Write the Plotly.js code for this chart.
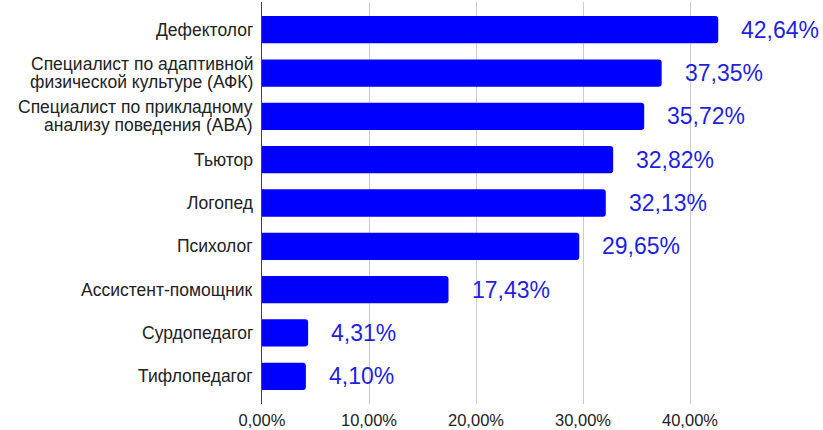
<!DOCTYPE html>
<html>
<head>
<meta charset="utf-8">
<script src="https://cdn.plot.ly/plotly-3.0.1.min.js"></script>
<style>html,body{margin:0;padding:0;background:#fff;}#chart{width:823px;height:430px;}</style>
</head>
<body>
<div id="chart"></div>
<script>
const categories = [
  "Дефектолог",
  "Специалист по адаптивной<br>физической культуре (АФК)",
  "Специалист по прикладному<br>анализу поведения (ABA)",
  "Тьютор",
  "Логопед",
  "Психолог",
  "Ассистент-помощник",
  "Сурдопедагог",
  "Тифлопедагог"
];
const values = [42.64, 37.35, 35.72, 32.82, 32.13, 29.65, 17.43, 4.31, 4.10];
const valueLabels = ["42,64%", "37,35%", "35,72%", "32,82%", "32,13%", "29,65%", "17,43%", "4,31%", "4,10%"];
const tickValues = [0, 10, 20, 30, 40, 50];
const tickLabels = ["0,00%", "10,00%", "20,00%", "30,00%", "40,00%", ""];

const FONT = "Arial, 'Liberation Sans', sans-serif";
const idx = categories.map((c, i) => i);

const trace = {
  type: "bar",
  orientation: "h",
  x: values,
  y: idx,
  marker: { color: "#0000ff", cornerradius: 3 },
  hoverinfo: "none"
};

const annotations = [];
values.forEach((v, i) => {
  annotations.push({
    x: v, y: i, xref: "x", yref: "y",
    text: valueLabels[i], showarrow: false,
    xanchor: "left", yanchor: "middle", xshift: 21,
    font: { family: FONT, size: 23, color: "#1f1fe0" }
  });
});
categories.forEach((c, i) => {
  const lines = c.split("<br>");
  const n = lines.length;
  lines.forEach((line, k) => {
    annotations.push({
      x: 0, y: i, xref: "paper", yref: "y",
      text: line, showarrow: false,
      xanchor: "right", yanchor: "middle", xshift: -7,
      yshift: ((n - 1) / 2 - k) * 18,
      font: { family: FONT, size: 17.5, color: "#222222" }
    });
  });
});

const layout = {
  width: 823, height: 430,
  margin: { l: 262, r: 26, t: 2, b: 26 },
  paper_bgcolor: "#fff", plot_bgcolor: "#fff",
  showlegend: false,
  bargap: 0.37,
  xaxis: {
    range: [0, 50], tickvals: tickValues, ticktext: tickLabels,
    showgrid: true, gridcolor: "#cccccc", gridwidth: 1,
    zeroline: false, showline: false, ticks: "",
    ticklabelstandoff: 4,
    tickfont: { family: FONT, size: 16.5, color: "#222222" },
    fixedrange: true
  },
  yaxis: {
    range: [8.64, -0.64], tickvals: idx, showticklabels: false,
    showgrid: false, zeroline: false,
    showline: true, linecolor: "#444444", linewidth: 1.5,
    fixedrange: true
  },
  annotations: annotations
};

Plotly.newPlot("chart", [trace], layout, { displayModeBar: false, staticPlot: true });
</script>
</body>
</html>
